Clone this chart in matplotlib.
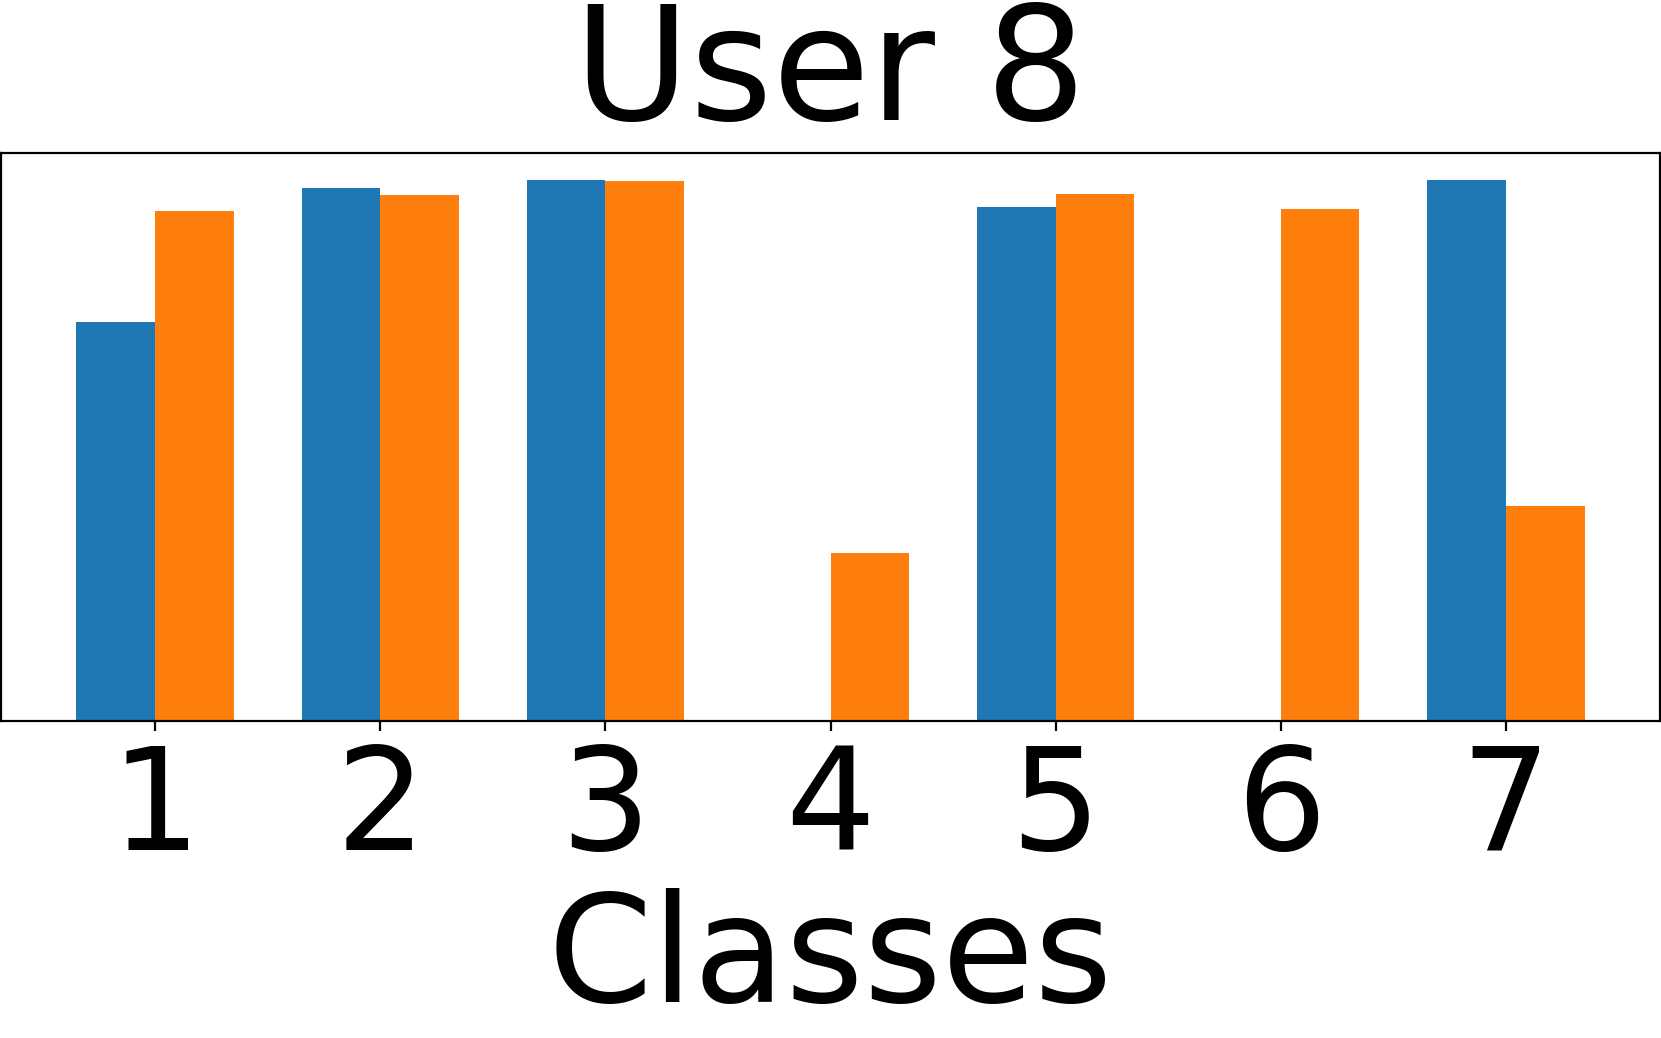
import matplotlib
matplotlib.use("Agg")
import matplotlib.pyplot as plt
import numpy as np

classes = [1, 2, 3, 4, 5, 6, 7]
series_a = [0.738, 0.985, 1.0, 0.0, 0.950, 0.0, 1.0]
series_b = [0.942, 0.972, 0.999, 0.311, 0.974, 0.946, 0.398]

fig = plt.figure(figsize=(1661 / 200, 1038 / 200), dpi=200)
ax = fig.add_axes([1 / 1661, 317 / 1038, 1659 / 1661, 568 / 1038])

x = np.array(classes)
width = 0.35
ax.bar(x - width / 2, series_a, width, color="#1f77b4")
ax.bar(x + width / 2, series_b, width, color="#ff7f0e")

ax.set_xticks(classes)
ax.set_xticklabels([str(c) for c in classes], fontsize=51)
ax.tick_params(axis="x", pad=3.7)
ax.set_yticks([])
ax.set_xlabel("Classes", fontsize=54, labelpad=3)
ax.set_title("User 8", fontsize=57, pad=10)

fig.savefig("out.png", dpi=200)
